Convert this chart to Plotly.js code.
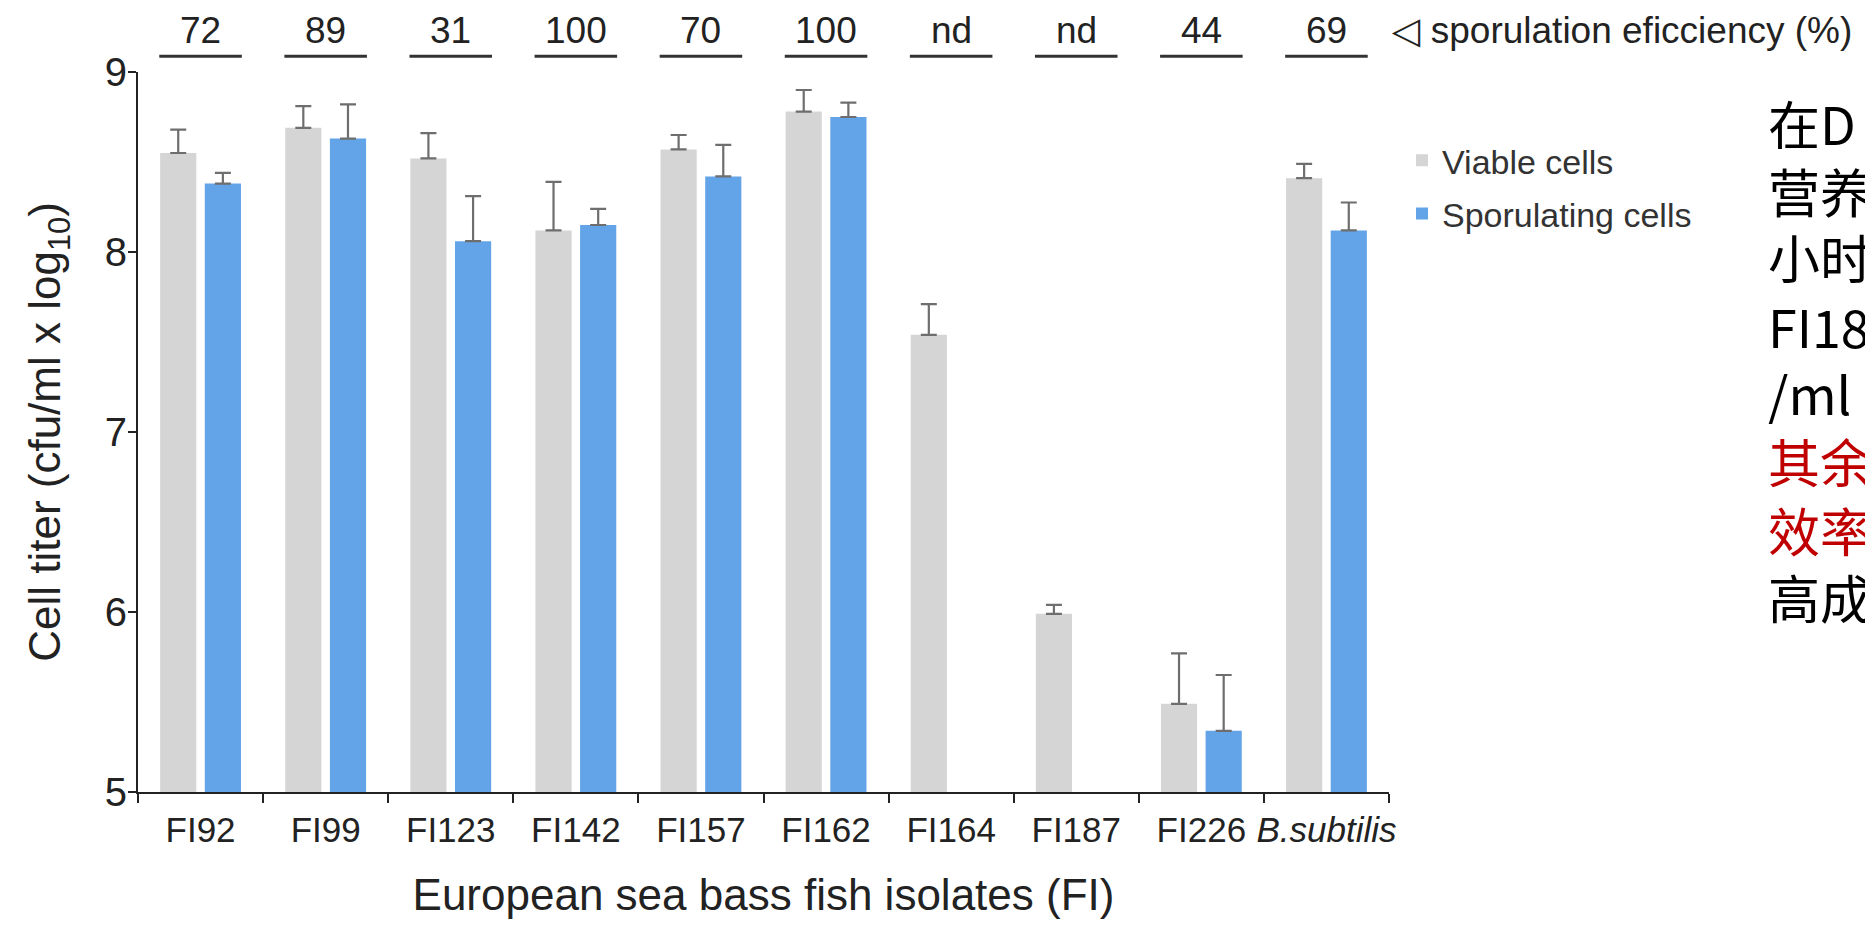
<!DOCTYPE html>
<html>
<head>
<meta charset="utf-8">
<script src="https://cdn.plot.ly/plotly-3.0.1.min.js"></script>
<style>
  html, body { margin: 0; padding: 0; background: #ffffff; }
  #chart { width: 1865px; height: 929px; }
</style>
</head>
<body>
<div id="chart"></div>
<script>
// ---- Data ----
const categories = ['FI92', 'FI99', 'FI123', 'FI142', 'FI157', 'FI162', 'FI164', 'FI187', 'FI226', 'B.subtilis'];
const tickLabels = ['FI92', 'FI99', 'FI123', 'FI142', 'FI157', 'FI162', 'FI164', 'FI187', 'FI226', '<i>B.subtilis</i>'];
const viable = [8.55, 8.69, 8.52, 8.12, 8.57, 8.78, 7.54, 5.99, 5.49, 8.41];
const viableErr = [0.13, 0.12, 0.14, 0.27, 0.08, 0.12, 0.17, 0.05, 0.28, 0.08];
const sporulating = [8.38, 8.63, 8.06, 8.15, 8.42, 8.75, null, null, 5.34, 8.12];
const sporulatingErr = [0.06, 0.19, 0.25, 0.09, 0.175, 0.08, null, null, 0.31, 0.155];
const efficiency = ['72', '89', '31', '100', '70', '100', 'nd', 'nd', '44', '69'];
const yTicks = [5, 6, 7, 8, 9];
const sideNotes = ['在D', '营养', '小时', 'FI18', '/ml', '其余', '效率', '高成'];
const sideNoteColors = ['#000000', '#000000', '#000000', '#000000', '#000000', '#c00000', '#c00000', '#000000'];

const FONT = 'Liberation Sans, Arial, Helvetica, sans-serif';
const TXT = '#222222';

const zeros = categories.map(() => 0);

const traces = [
  {
    type: 'bar', name: 'Viable cells', x: categories, y: viable, legendgroup: 'v',
    marker: {color: '#d5d5d5'},
    error_y: {type: 'data', symmetric: false, array: viableErr, arrayminus: zeros,
              visible: true, color: '#6e6e6e', thickness: 2.2, width: 8}
  },
  {
    type: 'bar', name: 'Sporulating cells', x: categories, y: sporulating, legendgroup: 's',
    marker: {color: '#63a4e8'},
    error_y: {type: 'data', symmetric: false, array: sporulatingErr, arrayminus: zeros,
              visible: true, color: '#6e6e6e', thickness: 2.2, width: 8}
  }
];

const annotations = [];
const shapes = [];
categories.forEach((c, i) => {
  annotations.push({
    xref: 'x', yref: 'paper', x: i, y: 1.058, text: efficiency[i],
    showarrow: false, xanchor: 'center', yanchor: 'middle',
    font: {family: FONT, size: 37, color: TXT}
  });
  shapes.push({
    type: 'line', xref: 'x', yref: 'paper', x0: i - 0.33, x1: i + 0.33, y0: 1.022, y1: 1.022,
    line: {color: '#333333', width: 3}
  });
});
annotations.push({
  xref: 'paper', yref: 'paper', x: 1.0, y: 1.058, xanchor: 'left', yanchor: 'middle',
  text: '<span style="font-family:DejaVu Sans">◁</span> sporulation eficciency (%)', showarrow: false,
  font: {family: FONT, size: 37, color: TXT}
});
const noteY = [0.931, 0.836, 0.744, 0.648, 0.556, 0.461, 0.365, 0.272];
sideNotes.forEach((t, i) => {
  annotations.push({
    xref: 'paper', yref: 'paper', x: 1.3015, y: noteY[i], xanchor: 'left', yanchor: 'middle',
    text: t, showarrow: false, width: 98, align: 'left', height: 64,
    font: {family: 'Noto Sans CJK SC, sans-serif', size: 52, color: sideNoteColors[i]}
  });
});

const layout = {
  width: 1865, height: 929,
  margin: {l: 138, r: 476, t: 72, b: 137},
  paper_bgcolor: '#ffffff', plot_bgcolor: '#ffffff',
  barmode: 'group', bargap: 0.286, bargroupgap: 0.19,
  font: {family: FONT, color: TXT},
  showlegend: true,
  legend: {x: 1.0104, y: 0.917, xanchor: 'left', yanchor: 'top', tracegroupgap: 6,
           font: {family: FONT, size: 34, color: '#333333'}, bgcolor: 'rgba(0,0,0,0)'},
  xaxis: {
    type: 'category', range: [-0.5, 9.5], tickmode: 'array', tickvals: categories, ticktext: tickLabels,
    tickson: 'boundaries', ticks: 'outside', ticklen: 9, tickwidth: 2, tickcolor: '#222',
    tickangle: 0, automargin: false, ticklabelstandoff: 6,
    showline: true, linecolor: '#222', linewidth: 2, showgrid: false, zeroline: false,
    tickfont: {family: FONT, size: 35, color: TXT},
    title: {text: 'European sea bass fish isolates (FI)', font: {family: FONT, size: 44, color: TXT}, standoff: 31}
  },
  yaxis: {
    range: [5, 9], tickmode: 'array', tickvals: yTicks, automargin: false, ticklabelstandoff: -7,
    ticks: 'outside', ticklen: 8, tickwidth: 2, tickcolor: '#222',
    showline: true, linecolor: '#222', linewidth: 2, showgrid: false, zeroline: false,
    tickfont: {family: FONT, size: 40, color: TXT},
    title: {text: 'Cell titer (cfu/ml x log<sub>10</sub>)', font: {family: FONT, size: 44, color: TXT}, standoff: 30}
  },
  shapes: shapes,
  annotations: annotations
};

Plotly.newPlot('chart', traces, layout, {displayModeBar: false, responsive: false});
</script>
</body>
</html>
